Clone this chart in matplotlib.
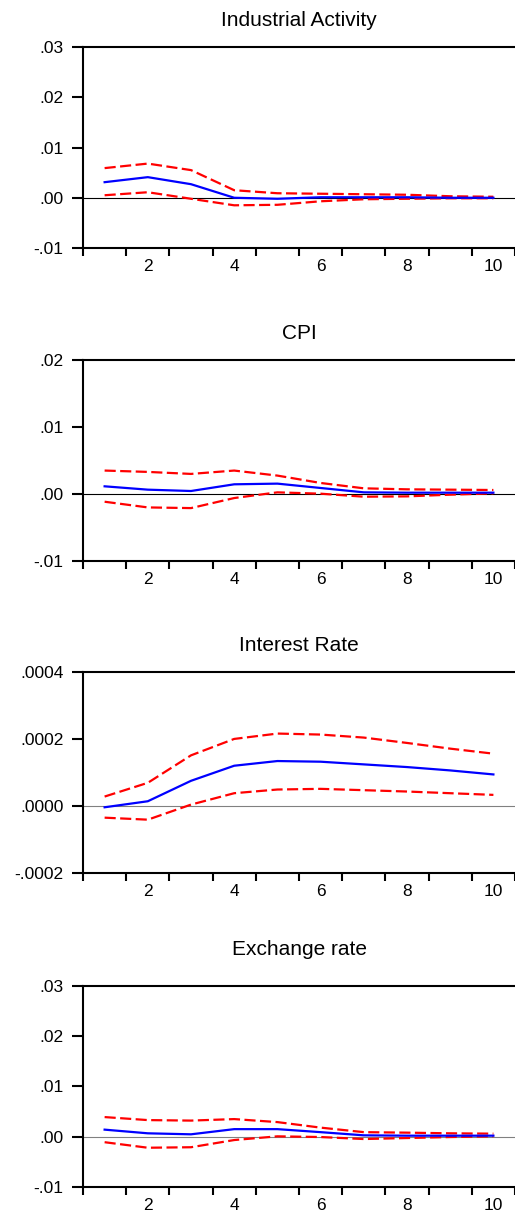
import matplotlib
matplotlib.use("Agg")
import matplotlib.pyplot as plt

plt.rcParams['font.family'] = ['Liberation Sans', 'DejaVu Sans']

periods = [1, 2, 3, 4, 5, 6, 7, 8, 9, 10]
titles = ["Industrial Activity", "CPI", "Interest Rate", "Exchange rate"]

# impulse responses (blue) and +/- 2 s.e. bands (red dashed)
ind_resp = [0.0031, 0.0041, 0.0027, 0.0000, -0.0002, 0.0001, 0.0001, 0.0001, 0.0000, 0.0000]
ind_upper = [0.0059, 0.0068, 0.0055, 0.0015, 0.0009, 0.0008, 0.0007, 0.0006, 0.0003, 0.0002]
ind_lower = [0.0005, 0.0011, -0.0002, -0.0015, -0.0014, -0.0007, -0.0003, -0.0002, -0.0001, -0.0001]

cpi_resp = [0.00115, 0.00065, 0.00045, 0.00145, 0.00155, 0.0009, 0.00025, 0.0002, 0.0002, 0.0002]
cpi_upper = [0.0035, 0.0033, 0.0030, 0.0035, 0.00275, 0.00165, 0.00085, 0.0007, 0.00065, 0.0006]
cpi_lower = [-0.00115, -0.0020, -0.0021, -0.0006, 0.00025, 0.00005, -0.0004, -0.00035, -0.0001, 0.0001]

ir_resp = [-0.000004, 0.000014, 0.000075, 0.000120, 0.000134, 0.000132, 0.000124, 0.000116, 0.000106, 0.000094]
ir_upper = [0.000028, 0.000069, 0.000151, 0.000200, 0.000216, 0.000213, 0.000204, 0.000188, 0.000171, 0.000156]
ir_lower = [-0.000035, -0.000041, 0.000004, 0.000038, 0.000049, 0.000051, 0.000047, 0.000043, 0.000038, 0.000033]

ex_resp = [0.0014, 0.00067, 0.00047, 0.0015, 0.0015, 0.0009, 0.00027, 0.0002, 0.0002, 0.0002]
ex_upper = [0.0039, 0.0033, 0.0032, 0.0035, 0.0029, 0.0018, 0.0009, 0.0008, 0.00067, 0.0006]
ex_lower = [-0.0011, -0.0022, -0.0021, -0.00067, 0.00007, -0.00007, -0.00047, -0.00027, -0.00007, 0.00007]

yticks_pct = [-0.01, 0.00, 0.01, 0.02, 0.03]
ylabels_pct = ["-.01", ".00", ".01", ".02", ".03"]
yticks_cpi = [-0.01, 0.00, 0.01, 0.02]
ylabels_cpi = ["-.01", ".00", ".01", ".02"]
yticks_ir = [-0.0002, 0.0, 0.0002, 0.0004]
ylabels_ir = ["-.0002", ".0000", ".0002", ".0004"]

xticks_major = [0.5, 1.5, 2.5, 3.5, 4.5, 5.5, 6.5, 7.5, 8.5, 9.5, 10.5]
xlabel_pos = [2, 4, 6, 8, 10]

panels = [
    (ind_resp, ind_upper, ind_lower, yticks_pct, ylabels_pct, 'black', 15),
    (cpi_resp, cpi_upper, cpi_lower, yticks_cpi, ylabels_cpi, 'black', 15),
    (ir_resp, ir_upper, ir_lower, yticks_ir, ylabels_ir, 'grey', 15),
    (ex_resp, ex_upper, ex_lower, yticks_pct, ylabels_pct, 'grey', 22),
]
bottoms = [0.7962, 0.5390, 0.2827, 0.0247]

fig = plt.figure(figsize=(5.15, 12.17), dpi=100)

for i, (resp, up, lo, yt, yl, zc, tpad) in enumerate(panels):
    ax = fig.add_axes([0.1612, bottoms[i], 0.8388, 0.1652])
    ax.axhline(0, color=zc, linewidth=0.8, zorder=1)
    ax.plot(periods, resp, color='#0000ff', linewidth=1.6, zorder=3)
    ax.plot(periods, up, color='#ff0000', linewidth=1.6, dashes=(5, 2), zorder=2)
    ax.plot(periods, lo, color='#ff0000', linewidth=1.6, dashes=(5, 2), zorder=2)

    ax.set_xlim(0.5, 10.5)
    ax.set_ylim(yt[0], yt[-1])
    ax.set_yticks(yt)
    ax.set_yticklabels(yl)

    ax.set_xticks(xticks_major)
    ax.set_xticklabels([])
    ax.set_xticks(xlabel_pos, minor=True)
    ax.set_xticklabels([str(v) for v in xlabel_pos], minor=True)

    ax.tick_params(axis='x', which='major', direction='out', length=6, width=1.5)
    ax.tick_params(axis='x', which='minor', length=0, pad=8, labelsize=12.5)
    ax.tick_params(axis='y', direction='out', length=8, width=1.5, pad=6, labelsize=12.5)

    ax.spines['right'].set_visible(False)
    for s in ['left', 'top', 'bottom']:
        ax.spines[s].set_linewidth(1.5)

    ax.set_title(titles[i], fontsize=15, pad=tpad)

fig.savefig("out.png", dpi=100)
